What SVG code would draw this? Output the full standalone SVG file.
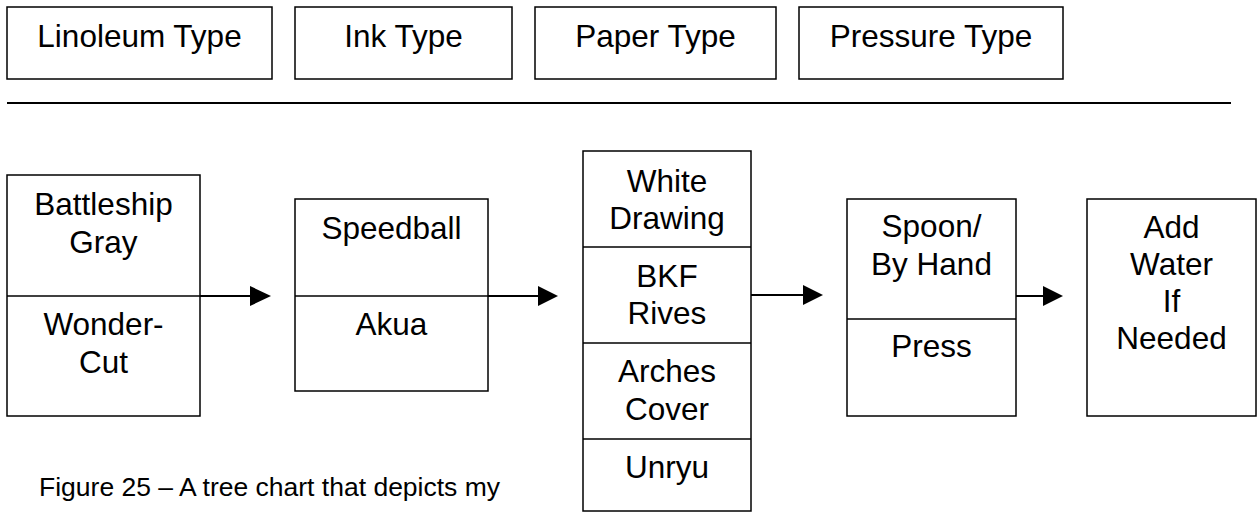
<svg xmlns="http://www.w3.org/2000/svg" width="1257" height="512" viewBox="0 0 1257 512">
  <defs>
    <style>
      .box { fill: #ffffff; stroke: #000000; stroke-width: 1.5; }
      .div { stroke: #000000; stroke-width: 1.5; fill: none; }
      .t { font-family: "Liberation Sans", Arial, sans-serif; font-size: 31.5px; fill: #000000; text-anchor: middle; }
      .cap { font-family: "Liberation Sans", Arial, sans-serif; font-size: 26.5px; fill: #000000; }
      .conn { stroke: #000000; stroke-width: 2; fill: none; }
      .head { fill: #000000; stroke: none; }
    </style>
  </defs>
  <rect width="1257" height="512" fill="#ffffff"/>

  <!-- header categories -->
  <g id="hdr-linoleum">
    <rect class="box" x="7" y="7" width="265" height="72"/>
    <text class="t" x="139.5" y="47">Linoleum Type</text>
  </g>
  <g id="hdr-ink">
    <rect class="box" x="295" y="7" width="217" height="72"/>
    <text class="t" x="403.5" y="47">Ink Type</text>
  </g>
  <g id="hdr-paper">
    <rect class="box" x="535" y="7" width="241" height="72"/>
    <text class="t" x="655.5" y="47">Paper Type</text>
  </g>
  <g id="hdr-pressure">
    <rect class="box" x="799" y="7" width="264" height="72"/>
    <text class="t" x="931" y="47">Pressure Type</text>
  </g>
  <g id="rule">
    <line x1="7" y1="103" x2="1231" y2="103" stroke="#000000" stroke-width="2.2"/>
  </g>

  <!-- nodes -->
  <g id="node-linoleum">
    <rect class="box" x="7" y="175" width="193" height="241"/>
    <line class="div" x1="7" y1="296" x2="200" y2="296"/>
    <text class="t" x="103.5" y="215">Battleship</text>
    <text class="t" x="103.5" y="252.5">Gray</text>
    <text class="t" x="103.5" y="335">Wonder-</text>
    <text class="t" x="103.5" y="372.5">Cut</text>
  </g>
  <g id="node-ink">
    <rect class="box" x="295" y="199" width="193" height="192"/>
    <line class="div" x1="295" y1="296" x2="488" y2="296"/>
    <text class="t" x="391.5" y="239">Speedball</text>
    <text class="t" x="391.5" y="335">Akua</text>
  </g>
  <g id="node-paper">
    <rect class="box" x="583" y="151" width="168" height="360"/>
    <line class="div" x1="583" y1="247" x2="751" y2="247"/>
    <line class="div" x1="583" y1="343" x2="751" y2="343"/>
    <line class="div" x1="583" y1="439" x2="751" y2="439"/>
    <text class="t" x="667" y="192">White</text>
    <text class="t" x="667" y="229">Drawing</text>
    <text class="t" x="667" y="287">BKF</text>
    <text class="t" x="667" y="324">Rives</text>
    <text class="t" x="667" y="382">Arches</text>
    <text class="t" x="667" y="420">Cover</text>
    <text class="t" x="667" y="478">Unryu</text>
  </g>
  <g id="node-pressure">
    <rect class="box" x="847" y="199" width="169" height="217"/>
    <line class="div" x1="847" y1="319" x2="1016" y2="319"/>
    <text class="t" x="931.5" y="237">Spoon/</text>
    <text class="t" x="931.5" y="275">By Hand</text>
    <text class="t" x="931.5" y="357">Press</text>
  </g>
  <g id="node-water">
    <rect class="box" x="1087" y="199" width="169" height="217"/>
    <text class="t" x="1171.5" y="238">Add</text>
    <text class="t" x="1171.5" y="275">Water</text>
    <text class="t" x="1171.5" y="312">If</text>
    <text class="t" x="1171.5" y="349">Needed</text>
  </g>

  <!-- connectors -->
  <g id="connectors">
    <line class="conn" x1="200" y1="296" x2="251" y2="296"/>
    <polygon class="head" points="250,286 271,296 250,306"/>
    <line class="conn" x1="488" y1="296" x2="539" y2="296"/>
    <polygon class="head" points="538,286 558,296 538,306"/>
    <line class="conn" x1="751" y1="295" x2="804" y2="295"/>
    <polygon class="head" points="803,285 823,295 803,305"/>
    <line class="conn" x1="1016" y1="296" x2="1044" y2="296"/>
    <polygon class="head" points="1043,286 1063,296 1043,306"/>
  </g>

  <!-- caption -->
  <g id="caption">
    <text class="cap" x="39" y="496">Figure 25 – A tree chart that depicts my</text>
  </g>
</svg>
